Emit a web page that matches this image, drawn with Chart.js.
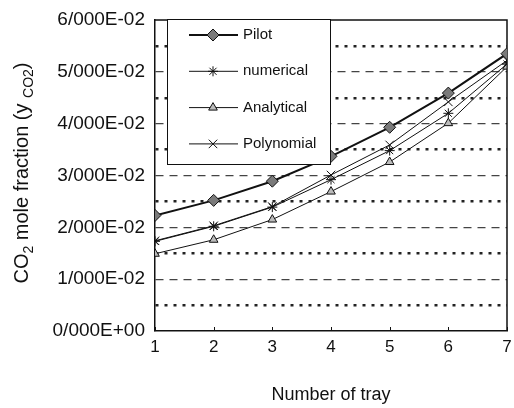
<!DOCTYPE html>
<html>
<head>
<meta charset="utf-8">
<script src="https://cdn.jsdelivr.net/npm/chart.js@4.4.1/dist/chart.umd.min.js"></script>
<style>
  html, body { margin: 0; padding: 0; background: #fff; }
</style>
</head>
<body>
<canvas id="chart" width="514" height="408"></canvas>
<script>
/* --------------- Data --------------------- */
const trays = [1, 2, 3, 4, 5, 6, 7];
const pilot = [0.0223, 0.0252, 0.0289, 0.0337, 0.0393, 0.0459, 0.0535];
const numerical = [0.0173, 0.0202, 0.0239, 0.0292, 0.0348, 0.0420, 0.0515];
const analytical = [0.0149, 0.0176, 0.0215, 0.0269, 0.0326, 0.0401, 0.0510];
const polynomial = [0.0174, 0.0203, 0.0240, 0.0301, 0.0359, 0.0442, 0.0522];
const seriesNames = ["Pilot", "numerical", "Analytical", "Polynomial"];
const yTickLabels = ["0/000E+00", "1/000E-02", "2/000E-02", "3/000E-02", "4/000E-02", "5/000E-02", "6/000E-02"];

const FONT = "'Liberation Sans', Arial, sans-serif";
const INK = "#111";

const toPoints = (vals) => trays.map((t, i) => ({ x: t, y: vals[i] }));

/* --------------- Legend box inside the plot --------------------- */
const boxLegend = {
  id: "boxLegend",
  afterDraw(chart) {
    const ctx = chart.ctx;
    const a = chart.chartArea;
    const bx = a.left + 12, by = a.top - 1, bw = 163, bh = 145;
    ctx.save();
    ctx.fillStyle = "#fff";
    ctx.fillRect(bx, by, bw, bh);
    ctx.strokeStyle = INK;
    ctx.lineWidth = 1;
    ctx.setLineDash([]);
    ctx.strokeRect(bx + 0.5, by + 0.5, bw, bh);
    chart.data.datasets.forEach((ds, i) => {
      const y = by + 16 + i * 36.3;
      ctx.strokeStyle = ds.borderColor;
      ctx.lineWidth = ds.borderWidth;
      ctx.beginPath();
      ctx.moveTo(bx + 22, y);
      ctx.lineTo(bx + 71, y);
      ctx.stroke();
      ctx.fillStyle = ds.pointBackgroundColor;
      ctx.strokeStyle = ds.pointBorderColor;
      ctx.lineWidth = ds.pointBorderWidth;
      Chart.helpers.drawPoint(ctx, {
        pointStyle: ds.pointStyle, radius: ds.pointRadius,
        borderWidth: ds.pointBorderWidth, rotation: 0
      }, bx + 46, y);
      ctx.fillStyle = INK;
      ctx.font = "15px " + FONT;
      ctx.textBaseline = "middle";
      ctx.textAlign = "left";
      ctx.fillText(ds.label, bx + 76, y);
    });
    ctx.restore();
  }
};

/* --------------- Frame, inner x ticks, y title --------------------- */
const frame = {
  id: "frame",
  beforeDatasetsDraw(chart) {
    const ctx = chart.ctx;
    const a = chart.chartArea;
    const xs = chart.scales.x;
    ctx.save();
    ctx.strokeStyle = INK;
    ctx.lineWidth = 1.5;
    ctx.beginPath();
    ctx.moveTo(a.left, a.top);
    ctx.lineTo(a.right, a.top);
    ctx.lineTo(a.right, a.bottom);
    ctx.stroke();
    ctx.lineWidth = 1;
    xs.ticks.forEach((t, i) => {
      const px = Math.round(xs.getPixelForTick(i)) + 0.5;
      ctx.beginPath();
      ctx.moveTo(px, a.bottom);
      ctx.lineTo(px, a.bottom - 4);
      ctx.stroke();
    });
    ctx.restore();
  },
  afterDraw(chart) {
    const ctx = chart.ctx;
    const parts = [
      { t: "CO", sub: false }, { t: "2", sub: true },
      { t: " mole fraction (y ", sub: false }, { t: "CO2", sub: true },
      { t: ")", sub: false }
    ];
    const mainFont = "20px " + FONT, subFont = "14px " + FONT;
    ctx.save();
    let total = 0;
    parts.forEach(p => { ctx.font = p.sub ? subFont : mainFont; p.w = ctx.measureText(p.t).width; total += p.w; });
    ctx.translate(28, 173);
    ctx.rotate(-Math.PI / 2);
    ctx.fillStyle = INK;
    ctx.textBaseline = "alphabetic";
    ctx.textAlign = "left";
    let x = -total / 2;
    parts.forEach(p => {
      ctx.font = p.sub ? subFont : mainFont;
      ctx.fillText(p.t, x, p.sub ? 5 : 0);
      x += p.w;
    });
    ctx.restore();
  }
};

/* --------------- Chart --------------------- */
const dataset = (label, vals, style, radius, fill, width) => ({
  label: label,
  data: toPoints(vals),
  borderColor: INK,
  borderWidth: width,
  pointStyle: style,
  pointRadius: radius,
  pointBackgroundColor: fill,
  pointBorderColor: INK,
  pointBorderWidth: 1,
  tension: 0
});

new Chart(document.getElementById("chart"), {
  type: "line",
  plugins: [frame, boxLegend],
  data: {
    datasets: [
      dataset(seriesNames[0], pilot, "rectRot", 6, "#7a7a7a", 2),
      dataset(seriesNames[1], numerical, "star", 5, "#fff", 1),
      dataset(seriesNames[2], analytical, "triangle", 5, "#bbb", 1),
      dataset(seriesNames[3], polynomial, "crossRot", 6, "#fff", 1)
    ]
  },
  options: {
    responsive: false,
    animation: false,
    devicePixelRatio: 1,
    layout: { padding: { top: 20, right: 2, left: 0, bottom: 0 } },
    plugins: { legend: { display: false }, tooltip: { enabled: false } },
    scales: {
      x: {
        type: "linear",
        min: 1,
        max: 7,
        afterFit: (s) => { s.height = 77; s.paddingLeft = 0; s.paddingRight = 0; },
        ticks: { stepSize: 1, color: INK, padding: -2, font: { family: FONT, size: 17 } },
        grid: { display: false },
        border: { color: INK, width: 1.5 },
        title: {
          display: true, text: "Number of tray", color: INK,
          font: { family: FONT, size: 18 }, padding: { top: 0, bottom: 2 }
        }
      },
      y: {
        min: 0,
        max: 0.06,
        afterFit: (s) => { s.width = 155; s.paddingTop = 0; s.paddingBottom = 0; },
        ticks: {
          stepSize: 0.005,
          color: INK,
          padding: 10,
          font: { family: FONT, size: 19 },
          callback: (v, i) => (i % 2 === 0 ? yTickLabels[i / 2] : "")
        },
        grid: {
          drawTicks: false,
          color: (c) => (c.index === 0 || c.index === 12 ? "rgba(0,0,0,0)" : c.index % 2 ? "#222" : "#444"),
          lineWidth: (c) => (c.index % 2 ? 2.5 : 1.2)
        },
        border: {
          color: INK,
          width: 1.5,
          dash: (c) => (c.tick === undefined ? [] : c.index % 2 ? [3, 6] : [8, 6])
        }
      }
    }
  }
});
</script>
</body>
</html>
